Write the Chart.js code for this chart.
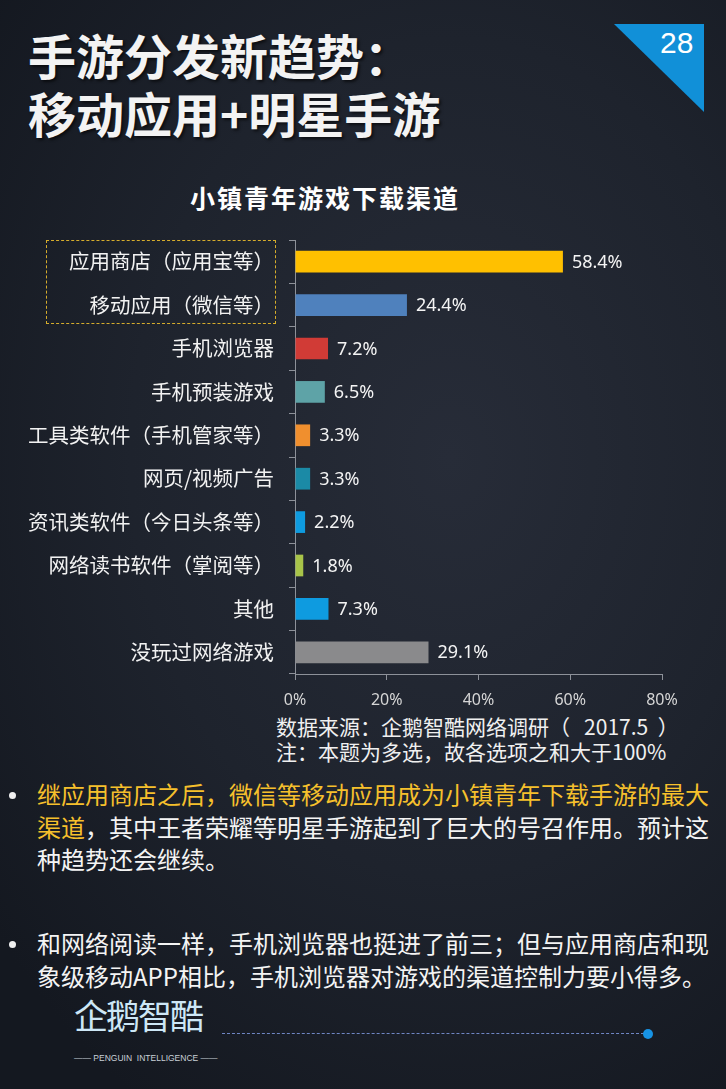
<!DOCTYPE html>
<html>
<head>
<meta charset="utf-8">
<script src="https://cdn.jsdelivr.net/npm/chart.js@4"></script>
<style>
  html,body{margin:0;padding:0;}
  body{
    width:726px;height:1089px;overflow:hidden;position:relative;
    font-family:"Noto Sans CJK SC","Noto Sans",sans-serif;
    background:radial-gradient(ellipse 80% 70% at 62% 42%, #272c38 0%, #1e232d 55%, #141820 100%);
    color:#f2f2f2;
  }
  .abs{position:absolute;white-space:nowrap;}
  #title{left:28px;top:25px;font-size:48px;font-weight:bold;line-height:58px;color:#f3f3f3;text-shadow:2px 2px 3px rgba(0,0,0,.6);}
  #corner{left:614px;top:24px;width:90px;height:88px;background:#1190d8;clip-path:polygon(0 0,100% 0,100% 100%);}
  #pageNo{left:660px;top:26px;font-family:"Liberation Sans",Arial,sans-serif;font-size:30px;color:#fff;}
  #chartTitle{left:190px;top:179px;font-size:25px;letter-spacing:2px;font-weight:bold;color:#fff;}
  #box{left:46px;top:240px;width:228px;height:82px;border:1px dashed #d6ad2c;}
  #chartWrap{left:0;top:230px;width:726px;height:480px;}
  #source{left:276px;top:714px;font-size:21px;line-height:25px;color:#f0f0f0;}
  .bullets{left:0;font-size:24px;line-height:32.5px;color:#f4f4f4;}
  .bullets .dot{position:absolute;left:9px;top:14px;width:7px;height:7px;border-radius:50%;background:#f0f0f0;}
  .bullets .txt{margin-left:37px;}
  .hl{color:#f6c02c;}
  #logo{left:74px;top:990px;font-size:34px;color:#cde7f6;letter-spacing:-2px;}
  #logoSub{left:74px;top:1053px;font-family:"Liberation Sans",Arial,sans-serif;font-size:8.5px;color:#c8d0d8;}
  #line{left:222px;top:1033px;width:422px;height:0;border-top:1px dashed #6f86c4;}
  #dot{left:643px;top:1029px;width:10px;height:10px;border-radius:50%;background:#1793e4;}
</style>
</head>
<body>
<div id="title" class="abs">手游分发新趋势：<br>移动应用+明星手游</div>
<div id="corner" class="abs"></div>
<div id="pageNo" class="abs">28</div>
<div id="chartTitle" class="abs">小镇青年游戏下载渠道</div>
<div id="chartWrap" class="abs"><canvas id="bars"></canvas></div>
<div id="box" class="abs"></div>
<div id="source" class="abs">数据来源：企鹅智酷网络调研（&nbsp;&nbsp;&nbsp;2017.5&nbsp;&nbsp;）<br>注：本题为多选，故各选项之和大于100%</div>
<div class="abs bullets" style="top:778px;">
  <span class="dot"></span>
  <div class="txt"><span class="hl">继应用商店之后，微信等移动应用成为小镇青年下载手游的最大<br>渠道</span>，其中王者荣耀等明星手游起到了巨大的号召作用。预计这<br>种趋势还会继续。</div>
</div>
<div class="abs bullets" style="top:927px;">
  <span class="dot"></span>
  <div class="txt">和网络阅读一样，手机浏览器也挺进了前三；但与应用商店和现<br>象级移动APP相比，手机浏览器对游戏的渠道控制力要小得多。</div>
</div>
<div id="logo" class="abs">企鹅智酷</div>
<div id="logoSub" class="abs">—— PENGUIN&nbsp; INTELLIGENCE ——</div>
<div id="line" class="abs"></div>
<div id="dot" class="abs"></div>

<script>
const channels = ["应用商店（应用宝等）","移动应用（微信等）","手机浏览器","手机预装游戏","工具类软件（手机管家等）","网页/视频广告","资讯类软件（今日头条等）","网络读书软件（掌阅等）","其他","没玩过网络游戏"];
const shares = [58.4,24.4,7.2,6.5,3.3,3.3,2.2,1.8,7.3,29.1];
const barColors = ["#ffc000","#4f81bd","#d13b36","#5ea3a7","#f08f2e","#1b8aa6","#0e9be0","#a8c449","#0e9be0","#8a8a8c"];
const axisTicks = [0,20,40,60,80];

const axisGrey = "#8d9199";

// value labels at the end of each bar
const valueLabels = {
  id:"valueLabels",
  afterDatasetsDraw(chart){
    const c = chart.ctx;
    const meta = chart.getDatasetMeta(0);
    c.save();
    c.font = "18px 'Noto Sans', sans-serif";
    c.fillStyle = "#f4f4f4";
    c.textBaseline = "middle";
    c.textAlign = "left";
    meta.data.forEach(function(bar,i){
      c.fillText(shares[i].toFixed(1)+"%", bar.x+9, bar.y+1);
    });
    c.restore();
  }
};

new Chart(document.getElementById("bars"),{
  type:"bar",
  data:{
    labels:channels,
    datasets:[{
      data:shares,
      backgroundColor:barColors,
      borderWidth:0,
      barPercentage:0.5,
      categoryPercentage:1
    }]
  },
  options:{
    indexAxis:"y",
    responsive:true,
    maintainAspectRatio:false,
    animation:false,
    layout:{padding:{top:10,right:64,left:0,bottom:0}},
    plugins:{legend:{display:false},tooltip:{enabled:false}},
    scales:{
      y:{
        afterFit(s){ s.width = 295; s.paddingTop = 0; s.paddingBottom = 0; },
        grid:{drawOnChartArea:false,drawTicks:true,tickLength:6,color:axisGrey,offset:true},
        border:{color:axisGrey,width:1},
        ticks:{color:"#f2f2f2",padding:15,font:{family:"'Noto Sans CJK SC'",size:20.5}}
      },
      x:{
        min:0,max:80,
        afterFit(s){ s.height = 36; s.paddingLeft = 0; s.paddingRight = 0; },
        afterBuildTicks(s){ s.ticks = axisTicks.map(v => ({value:v})); },
        grid:{drawOnChartArea:false,drawTicks:true,tickLength:6,color:axisGrey},
        border:{color:axisGrey,width:1},
        ticks:{color:"#d6d6d6",padding:11,font:{family:"'Noto Sans'",size:16},
          callback:v => v+"%"}
      }
    }
  },
  plugins:[valueLabels]
});
</script>
</body>
</html>
